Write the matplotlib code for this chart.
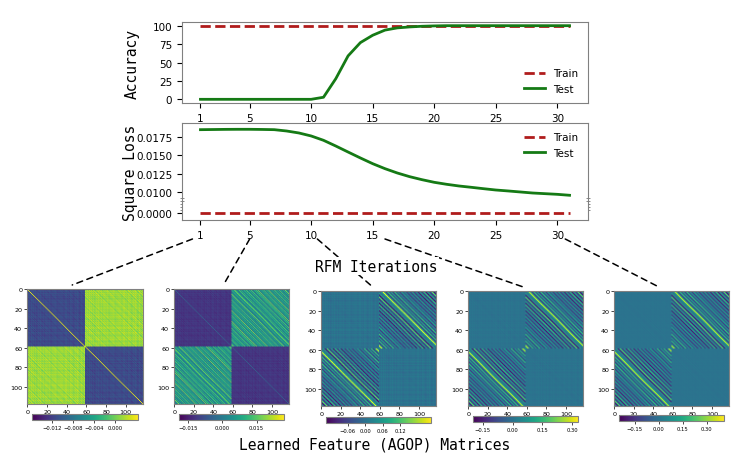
import numpy as np
import matplotlib
matplotlib.use("Agg")
import matplotlib.pyplot as plt
import matplotlib.transforms as mtransforms
from matplotlib.patches import ConnectionPatch
from matplotlib import ticker

# ---------------- data ----------------
iters = list(range(1, 32))
train_acc = [100.0] * 31
test_acc = [0, 0, 0, 0, 0, 0, 0, 0, 0, 0,
            2.8, 28, 59, 77, 87, 94, 97, 98.3, 99.2, 99.7,
            100, 100, 100, 100, 100, 100, 100, 100, 100, 100, 100]
train_loss = [0.0] * 31
test_loss = [0.01850, 0.01852, 0.01854, 0.01855, 0.01855, 0.01853, 0.01850, 0.01832, 0.01805, 0.01764,
             0.01705, 0.01627, 0.01545, 0.01464, 0.01386, 0.01318, 0.01259, 0.01209, 0.01168, 0.01132,
             0.01105, 0.01082, 0.01064, 0.01045, 0.01027, 0.01014, 0.01000, 0.00986, 0.00977, 0.00968, 0.00955]
x_ticks = [1, 5, 10, 15, 20, 25, 30]
acc_ticks = [0, 25, 50, 75, 100]
loss_ticks_top = [0.0100, 0.0125, 0.0150, 0.0175]
loss_ticks_bottom = [0.0]

snap_iters = [1, 5, 10, 15, 30]
P = 59  # one-hot block size (matrix is 2P x 2P)

# circulant profiles (digit levels read loosely from the matrices)
TEX_A = "4627381950" "3728461527" "3940816372" "5049183627" "4059182637" "405918263"
ROW_A = "5382947160" "2739418056" "6184037295" "3072856149" "8251964037" "495028316"
OFF_EARLY = "3475324635" "2453642536" "3254637243" "5362453724" "3526435263" "425374235"
OFF_LATE = "3469631463" "2531463243" "1353243124" "3135213420" "3521462035" "214730253"
DIAG_LATE = "4536475364" "5746354657" "3645746536" "4756453647" "5364574635" "465374563"

# per-matrix levels
diag_base = [-0.0112, -0.0118, 0.0, 0.0, 0.0]
off_base = [0.0014, 0.0025, 0.0, 0.0, 0.0]
main_diag = [0.0036, -0.0055, None, None, None]
off_step = [0.00025, 0.0038, 0.037, 0.052, 0.064]
diag_step = [0.00022, 0.0003, 0.003, 0.004, 0.004]
row_step = [0.0001, 0.00015, 0.0015, 0.001, 0.0005]
vmins = [-0.0158, -0.019, -0.135, -0.20, -0.25]
vmaxs = [0.0044, 0.027, 0.225, 0.33, 0.41]
cb_ticks = [[-0.012, -0.008, -0.004, 0.000],
            [-0.015, 0.000, 0.015],
            [-0.06, 0.00, 0.06, 0.12],
            [-0.15, 0.00, 0.15, 0.30],
            [-0.15, 0.00, 0.15, 0.30]]
cb_fmt = ["{:.3f}", "{:.3f}", "{:.2f}", "{:.2f}", "{:.2f}"]


def lev(s):
    return np.array([int(c) for c in s[:P]], dtype=float)


def circ(prof):
    i = np.arange(P)[:, None]
    j = np.arange(P)[None, :]
    return prof[(j - i) % P]


def build(k):
    tex = lev(TEX_A)
    row = (lev(ROW_A) - 4.5) * row_step[k]
    plaid = row[:, None] + row[None, :]
    if k < 2:
        offp = off_base[k] + ((tex - 4.5) * off_step[k] if k == 0 else (lev(OFF_EARLY) - 3) * off_step[k])
        dprof = diag_base[k] + (tex - 4.5) * diag_step[k]
    else:
        offp = (lev(OFF_LATE) - 3) * off_step[k]
        dprof = (lev(DIAG_LATE) - 4.5) * diag_step[k]
    C = circ(offp) + plaid
    D = circ(dprof)
    D = 0.5 * (D + D.T) + plaid
    M = np.block([[D, C], [C.T, D]])
    if main_diag[k] is not None:
        np.fill_diagonal(M, main_diag[k])
    return M


# ---------------- figure ----------------
W, H = 747, 460
fig = plt.figure(figsize=(W / 100, H / 100), dpi=100)


def fr(x0, y0, x1, y1):
    return [x0 / W, 1 - y1 / H, (x1 - x0) / W, (y1 - y0) / H]


SPINE = "#808080"
RED = "#b01c1c"
GREEN = "#157a15"


def style(ax):
    for s in ax.spines.values():
        s.set_color(SPINE)
    ax.tick_params(labelsize=7.5, length=3.5, width=0.8)


ax_acc = fig.add_axes(fr(182, 23, 588, 104))
ax_acc.plot(iters, train_acc, "--", color=RED, lw=2, label="Train")
ax_acc.plot(iters, test_acc, "-", color=GREEN, lw=2, label="Test")
ax_acc.set_xticks(x_ticks)
ax_acc.set_yticks(acc_ticks)
ax_acc.set_ylim(-5, 105)
ax_acc.set_xlim(-0.5, 32.5)
style(ax_acc)
ax_acc.legend(loc="lower right", frameon=False, fontsize=7.5)

ax_lt = fig.add_axes(fr(182, 124, 588, 205))
ax_lb = fig.add_axes(fr(182, 205, 588, 221))
for ax in (ax_lt, ax_lb):
    ax.plot(iters, train_loss, "--", color=RED, lw=2, label="Train")
    ax.plot(iters, test_loss, "-", color=GREEN, lw=2, label="Test")
    ax.set_xlim(-0.5, 32.5)
    style(ax)
ax_lt.set_ylim(0.00836, 0.01941)
ax_lb.set_ylim(-0.00095, 0.00123)
ax_lt.set_yticks(loss_ticks_top)
ax_lb.set_yticks(loss_ticks_bottom)
fmt4 = ticker.FormatStrFormatter("%.4f")
ax_lt.yaxis.set_major_formatter(fmt4)
ax_lb.yaxis.set_major_formatter(fmt4)
ax_lt.spines["bottom"].set_visible(False)
ax_lb.spines["top"].set_visible(False)
ax_lt.tick_params(axis="x", bottom=False, labelbottom=False)
ax_lb.set_xticks(x_ticks)
ax_lt.legend(loc="upper right", frameon=False, fontsize=7.5)
# break marks
for xa in (0, 1):
    ax_lt.plot([xa] * 5, [-0.07, -0.035, 0.0, 0.035, 0.07], linestyle="none", marker="_",
               markersize=3, markeredgewidth=0.6, color="#777777",
               transform=ax_lt.transAxes, clip_on=False)

# matrices
mat_boxes = [(27, 290, 143, 405), (174, 290, 289, 405), (321, 292, 436, 407),
             (468, 292, 583, 407), (614, 292, 729, 407)]
cb_boxes = [(32, 415, 138, 421), (179, 415, 284, 421), (326, 418, 431, 424),
            (473, 417, 578, 423), (619, 416, 724, 422)]
mat_axes = []
for k in range(5):
    axm = fig.add_axes(fr(*mat_boxes[k]))
    im = axm.imshow(build(k), cmap="viridis", vmin=vmins[k], vmax=vmaxs[k], aspect="auto")
    axm.set_xticks([0, 20, 40, 60, 80, 100])
    axm.set_yticks([0, 20, 40, 60, 80, 100])
    axm.tick_params(labelsize=4.6, length=2, width=0.5, pad=1.5)
    for s in axm.spines.values():
        s.set_color(SPINE)
        s.set_linewidth(0.8)
    cax = fig.add_axes(fr(*cb_boxes[k]))
    cb = fig.colorbar(im, cax=cax, orientation="horizontal", ticks=cb_ticks[k])
    f = cb_fmt[k]
    cb.ax.xaxis.set_major_formatter(ticker.FuncFormatter(lambda v, _, f=f: f.format(v).replace("-", "\u2212")))
    cb.ax.tick_params(labelsize=3.8, length=2, width=0.5, pad=1.5)
    cb.outline.set_edgecolor(SPINE)
    cb.outline.set_linewidth(0.8)
    mat_axes.append(axm)

# connectors
start_dx = [-0.65, 0.0, 0.5, 1.0, 0.65]
end_fx = [0.39, 0.43, 0.45, 0.48, 0.39]
trans = mtransforms.blended_transform_factory(ax_lb.transData, fig.transFigure)
for it, dx, axm, fx in zip(snap_iters, start_dx, mat_axes, end_fx):
    con = ConnectionPatch(xyA=(it + dx, 1 - 240 / H), coordsA=trans,
                          xyB=(fx, 1.035), coordsB=axm.transAxes,
                          linestyle=(0, (4, 3)), color="black", lw=1.1, zorder=3)
    fig.add_artist(con)

mono = "DejaVu Sans Mono"
fig.text(376 / W, 1 - 267 / H, "RFM Iterations", ha="center", va="center", family=mono,
         fontsize=10.5, bbox=dict(facecolor="white", edgecolor="none", pad=1), zorder=10)
fig.text(375 / W, 1 - 445 / H, "Learned Feature (AGOP) Matrices", ha="center", va="center",
         family=mono, fontsize=10.5, zorder=10)
fig.text(132 / W, 1 - 64 / H, "Accuracy", rotation=90, ha="center", va="center", family=mono, fontsize=10.5)
fig.text(130 / W, 1 - 173 / H, "Square Loss", rotation=90, ha="center", va="center", family=mono, fontsize=10.5)

fig.savefig("out.png", dpi=100)
